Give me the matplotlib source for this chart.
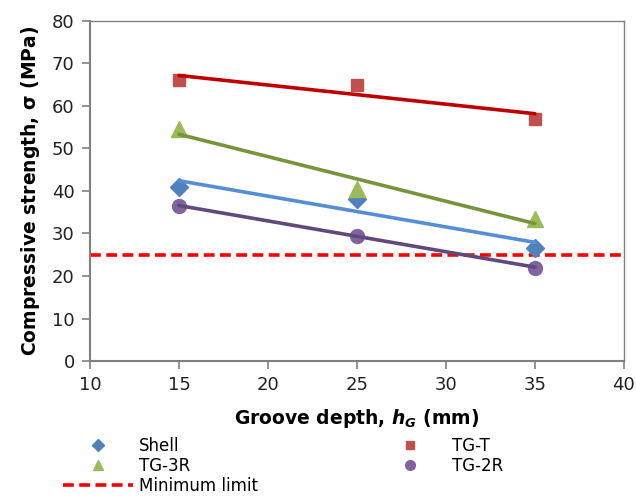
import matplotlib
matplotlib.use("Agg")
import matplotlib.pyplot as plt
import numpy as np
from matplotlib.lines import Line2D

plt.rcParams["font.family"] = ["DejaVu Sans"]
plt.rcParams["mathtext.fontset"] = "dejavusans"

depth = [15, 25, 35]
shell = [41.0, 38.0, 26.5]
tg_t = [66.0, 65.0, 57.0]
tg_3r = [54.5, 40.5, 33.5]
tg_2r = [36.5, 29.5, 22.0]
min_limit = 25

series = [
    ("Shell", shell, "D", "#4F81BD", "#558ED5", 9),
    ("TG-T", tg_t, "s", "#C0504D", "#C00000", 8),
    ("TG-3R", tg_3r, "^", "#9BBB59", "#77933C", 11),
    ("TG-2R", tg_2r, "o", "#8064A2", "#604A7B", 10),
]

fig = plt.figure(figsize=(6.36, 4.98), dpi=100)
ax = fig.add_axes([0.1415, 0.275, 0.8395, 0.683])

handles = {}
x = np.array(depth, dtype=float)
for name, vals, mk, mcol, lcol, ms in series:
    h, = ax.plot(x, vals, linestyle="none", marker=mk, color=mcol, markersize=ms, zorder=3)
    handles[name] = h
for name, vals, mk, mcol, lcol, ms in series:
    k, b = np.polyfit(x, vals, 1)
    ax.plot(x, k * x + b, color=lcol, linewidth=2.6, solid_capstyle="round", zorder=4)

ax.axhline(min_limit, color="#FF0000", linestyle=(0, (3, 1.5)), linewidth=2.6, zorder=2)

ax.set_xlim(10, 40)
ax.set_ylim(0, 80)
ax.set_xticks(range(10, 41, 5))
ax.set_yticks(range(0, 81, 10))
ax.tick_params(labelsize=13, color="#808080", length=6, width=1.2, direction="out",
               labelcolor="#222222", pad=5)
for side in ["left", "bottom"]:
    ax.spines[side].set_color("#808080")
    ax.spines[side].set_linewidth(1.5)
for side in ["top", "right"]:
    ax.spines[side].set_color("#808080")
    ax.spines[side].set_linewidth(1.0)

ax.set_xlabel(r"Groove depth, $\mathbfit{h}_{\mathbfit{G}}$ (mm)", fontsize=13.5, fontweight="bold", labelpad=9)
ax.set_ylabel(r"Compressive strength, $\mathbf{\sigma}$ (MPa)", fontsize=13.5, fontweight="bold", labelpad=7)

lim_handle = Line2D([], [], color="#FF0000", linestyle=(0, (3, 1.5)), linewidth=2.6)
order = [handles["Shell"], handles["TG-3R"], lim_handle, handles["TG-T"], handles["TG-2R"]]
labels = ["Shell", "TG-3R", "Minimum limit", "TG-T", "TG-2R"]
fig.legend(order, labels, loc="upper left", bbox_to_anchor=(0.088, 0.136), ncol=2,
           frameon=False, fontsize=12, handlelength=4.2, columnspacing=7.0,
           labelspacing=0.12, borderaxespad=0, handletextpad=0.4, markerscale=0.7)

fig.savefig("out.png", dpi=100)
